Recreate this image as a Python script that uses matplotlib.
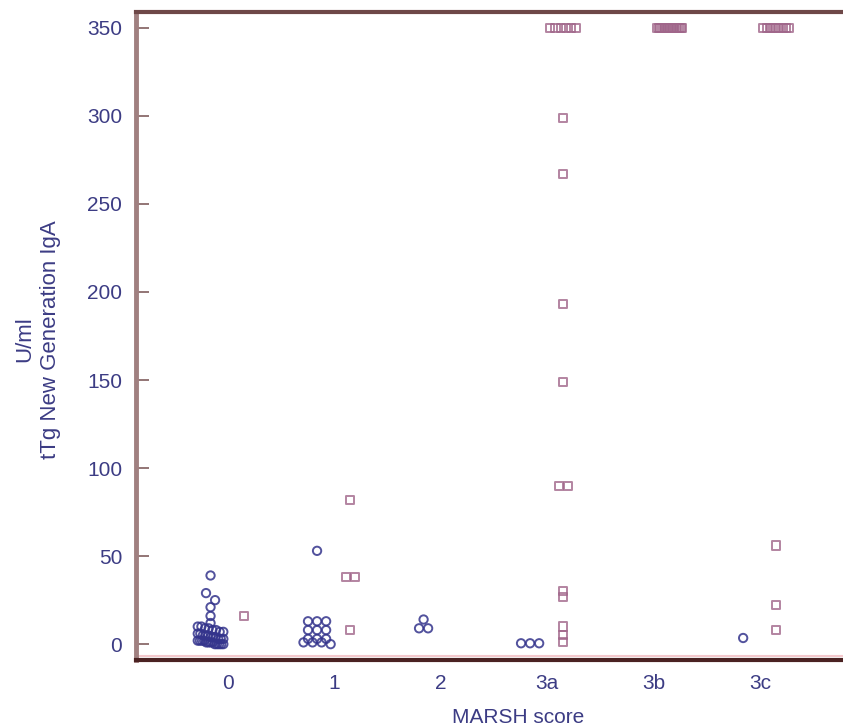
import numpy as np
import matplotlib.pyplot as plt

plt.rcParams['font.family'] = ['Liberation Sans Narrow', 'Liberation Sans', 'DejaVu Sans']

groups = ['0', '1', '2', '3a', '3b', '3c']

# blue circles (values in U/ml) per MARSH group
neg_vals = [
    [39, 29, 25, 21, 16, 12, 10, 10, 9, 9, 8, 8, 7, 7, 6, 6, 5, 5, 5, 4, 4, 4,
     3, 3, 3, 2, 2, 2, 2, 1, 1, 1, 1, 0, 0, 0, 0, 0],
    [53, 13, 13, 13, 8, 8, 8, 3, 3, 3, 1, 1, 1, 0],
    [14, 9, 9],
    [0.5, 0.5, 0.5],
    [],
    [3.5],
]

# pink squares per MARSH group (350 = upper limit of the assay)
pos_vals = [
    [16],
    [82, 38, 38, 8],
    [],
    [350, 350, 350, 350, 350, 350, 299, 267, 193, 149, 90, 90, 30, 27, 10, 5, 1],
    [350] * 16,
    [350] * 9 + [56, 22, 8],
]

circle_col = '#34348c'
square_col = '#a0668a'
text_col = '#3c3c84'


def swarm(vals, center, binsize=4.5, step=0.085):
    # spread points that share a value bin side by side
    vals = np.asarray(vals, dtype=float)
    xs = np.zeros_like(vals)
    bins = np.round(vals / binsize)
    for b in np.unique(bins):
        idx = np.where(bins == b)[0]
        n = len(idx)
        offs = (np.arange(n) - (n - 1) / 2) * step
        if n > 5:
            offs = np.linspace(-0.12, 0.12, n)
        xs[idx] = center + offs
    return xs


fig = plt.figure(figsize=(8.43, 7.26), dpi=100)
ax = fig.add_axes([0.1613, 0.0909, 0.906, 0.8926])

for i in range(len(groups)):
    if neg_vals[i]:
        x = swarm(neg_vals[i], i - 0.16)
        ax.scatter(x, neg_vals[i], s=36, marker='o', facecolors='none',
                   edgecolors=circle_col, linewidths=1.4, alpha=0.85, zorder=3)
    if pos_vals[i]:
        x = swarm(pos_vals[i], i + 0.15)
        ax.scatter(x, pos_vals[i], s=34, marker='s', facecolors='none',
                   edgecolors=square_col, linewidths=1.4, alpha=0.8, zorder=3)

ax.axhline(-7, color='#f4c8cc', lw=1.5, zorder=1)

ax.set_xlim(-0.86, 6.31)
ax.set_ylim(-9, 359)
ax.set_xticks(range(len(groups)))
ax.set_xticklabels(groups)
ax.set_yticks(np.arange(0, 351, 50))

ax.tick_params(axis='x', length=0, pad=10, labelsize=15, labelcolor=text_col)
ax.tick_params(axis='y', length=9, width=1.3, color='#8a6a6a', direction='in',
               pad=10, labelsize=15, labelcolor=text_col)

ax.spines['top'].set_color('#6e4848')
ax.spines['top'].set_linewidth(3)
ax.spines['bottom'].set_color('#4a2222')
ax.spines['bottom'].set_linewidth(3)
ax.spines['left'].set_color('#a08080')
ax.spines['left'].set_linewidth(3.5)
ax.spines['right'].set_visible(False)

ax.set_xlabel('MARSH score', fontsize=15, color=text_col, labelpad=11)
ax.set_ylabel('U/ml\ntTg New Generation IgA', fontsize=16, color=text_col,
              linespacing=1.3)
ax.yaxis.set_label_coords(-0.098, 0.495)

fig.savefig('out.png', dpi=100)
